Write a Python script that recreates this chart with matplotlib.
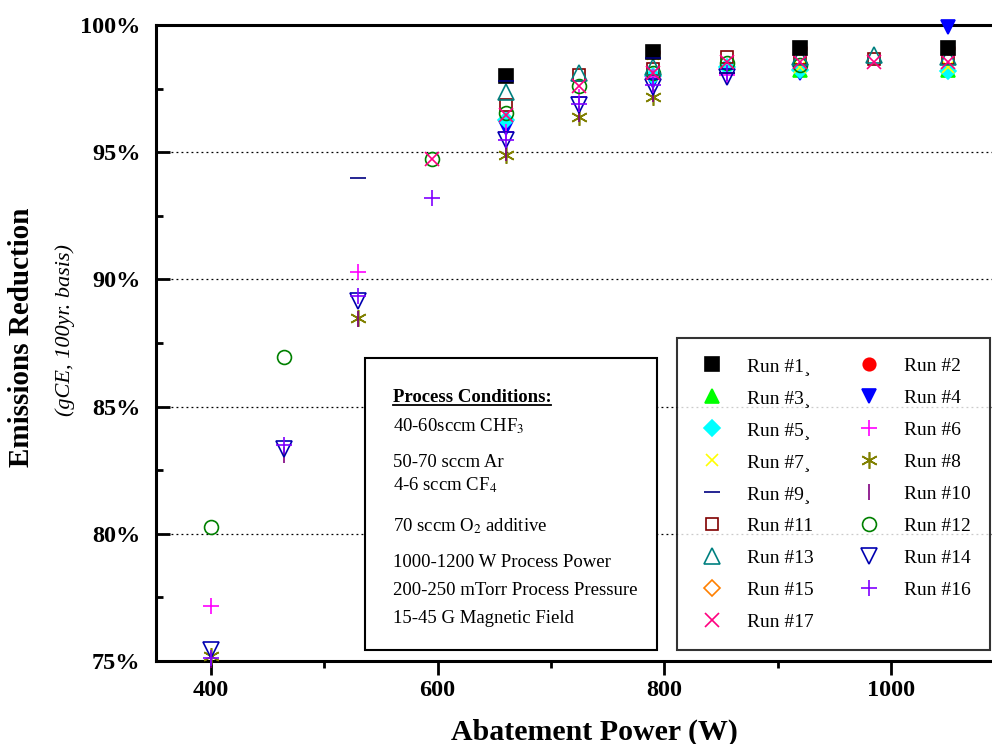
import numpy as np
import matplotlib
matplotlib.use('Agg')
import matplotlib.pyplot as plt
from matplotlib.ticker import MultipleLocator, FuncFormatter
from matplotlib.patches import Rectangle

nan = np.nan

# abatement power settings (W)
power = [400, 465, 530, 595, 660, 725, 790, 855, 920, 985, 1050]

# emissions reduction (%) per run, aligned with power
run_1 = [nan, nan, nan, nan, 98.0, nan, 98.95, nan, 99.08, nan, 99.08]
run_2 = [nan, nan, nan, nan, nan, nan, 98.95, nan, 99.08, nan, 99.08]
run_3 = [nan, nan, nan, nan, nan, nan, nan, nan, 98.25, nan, 98.25]
run_4 = [nan, nan, nan, nan, 95.95, nan, 97.78, nan, 98.1, nan, 99.93]
run_5 = [nan, nan, nan, nan, 96.25, nan, 98.0, 98.35, 98.23, nan, 98.2]
run_6 = [77.15, nan, 90.3, nan, 95.8, 97.15, 97.95, 98.05, nan, nan, nan]
run_7 = [nan, nan, nan, nan, nan, nan, 98.85, nan, 98.35, nan, 98.35]
run_8 = [75.2, nan, 88.5, nan, 94.9, 96.38, 97.15, nan, nan, nan, nan]
run_9 = [nan, nan, 94.0, nan, 97.8, nan, 98.7, 98.13, nan, nan, nan]
run_10 = [75.05, 83.1, 88.45, nan, 94.95, 96.5, 97.3, nan, nan, nan, nan]
run_11 = [nan, nan, nan, nan, 96.86, 98.04, 98.26, 98.76, 98.69, 98.65, 98.69]
run_12 = [80.27, 86.96, nan, 94.73, 96.56, 97.62, 98.1, 98.5, 98.43, nan, nan]
run_13 = [nan, nan, nan, nan, 97.38, 98.12, 98.36, nan, 98.76, 98.82, 98.76]
run_14 = [75.44, 83.32, 89.14, nan, 95.49, 96.86, 97.58, 97.97, nan, nan, nan]
run_15 = [nan] * 11
run_16 = [75.1, 83.48, 89.34, 93.21, 95.49, 96.9, 97.65, 98.1, nan, nan, nan]
run_17 = [nan, nan, nan, 94.73, 96.47, 97.6, 98.1, 98.55, 98.56, 98.56, 98.56]

runs = [run_1, run_2, run_3, run_4, run_5, run_6, run_7, run_8, run_9,
        run_10, run_11, run_12, run_13, run_14, run_15, run_16, run_17]
labels = ['Run #1\u00b8', 'Run #2', 'Run #3\u00b8', 'Run #4', 'Run #5\u00b8', 'Run #6',
          'Run #7\u00b8', 'Run #8', 'Run #9\u00b8', 'Run #10', 'Run #11', 'Run #12',
          'Run #13', 'Run #14', 'Run #15', 'Run #16', 'Run #17']

# marker, colour, filled, size, zorder (some runs sit under others)
styles = [
    ('s', '#000000', True, 10, 3.2),
    ('o', '#ff0000', True, 9, 3.0),
    ('^', '#00ff00', True, 10, 3.0),
    ('v', '#0000ff', True, 10, 3.0),
    ('D', '#00ffff', True, 8, 3.0),
    ('+', '#ff00ff', False, 11, 3.0),
    ('x', '#ffff00', False, 8, 3.0),
    ((6, 2, 0), '#808000', False, 12, 3.0),
    ('_', '#000080', False, 11, 3.3),
    ('|', '#800080', False, 11, 3.0),
    ('s', '#800000', False, 9, 3.0),
    ('o', '#008000', False, 10, 3.0),
    ('^', '#008080', False, 11, 3.0),
    ('v', '#0000b0', False, 11, 3.0),
    ('D', '#ff8000', False, 8, 3.0),
    ('+', '#8000ff', False, 11, 3.0),
    ('x', '#ff0080', False, 10, 3.0),
]

plt.rcParams['font.family'] = 'Liberation Serif'
plt.rcParams['mathtext.fontset'] = 'stix'

fig = plt.figure(figsize=(9.92, 7.44), dpi=100)
ax = fig.add_axes([0.157, 0.1116, 0.843, 0.8548])

handles = []
for vals, lab, (mk, col, filled, ms, z) in zip(runs, labels, styles):
    h, = ax.plot(power, vals, linestyle='none', marker=mk, markersize=ms,
                 markerfacecolor=col if filled else 'none',
                 markeredgecolor=col, markeredgewidth=1.2,
                 label=lab, clip_on=False, zorder=z)
    handles.append(h)

ax.set_xlim(351.5, 1089)
ax.set_ylim(75, 100)

for side in ['left', 'bottom', 'top']:
    ax.spines[side].set_linewidth(2.2)
ax.spines['right'].set_visible(False)

ax.xaxis.set_major_locator(MultipleLocator(200))
ax.xaxis.set_minor_locator(MultipleLocator(100))
ax.yaxis.set_major_locator(MultipleLocator(5))
ax.yaxis.set_minor_locator(MultipleLocator(2.5))
ax.yaxis.set_major_formatter(FuncFormatter(lambda v, p: f'{v:.0f}%'))

ax.tick_params(axis='x', which='major', direction='out', length=10, width=2,
               labelsize=17.5, pad=4)
ax.tick_params(axis='x', which='minor', direction='out', length=5, width=2)
ax.tick_params(axis='y', which='major', direction='in', length=10, width=2,
               labelsize=17.5, pad=11)
ax.tick_params(axis='y', which='minor', direction='in', length=5, width=2)
for t in ax.get_xticklabels() + ax.get_yticklabels():
    t.set_fontweight('bold')

ax.yaxis.grid(True, which='major', color='black', linestyle=(0, (1.5, 2.5)), linewidth=0.9)
ax.set_axisbelow(True)

fig.text(0.599, 0.016, 'Abatement Power (W)', fontsize=21.5, fontweight='bold',
         ha='center', va='center')
fig.text(0.022, 0.547, 'Emissions Reduction', rotation=90, fontsize=21,
         fontweight='bold', ha='center', va='center')
fig.text(0.066, 0.556, '(gCE, 100yr. basis)', rotation=90, fontsize=16,
         fontstyle='italic', ha='center', va='center')

# legend, filled row by row like the original
order = list(range(0, 17, 2)) + list(range(1, 17, 2))
leg = ax.legend([handles[i] for i in order], [labels[i] for i in order],
                ncol=2, loc='lower left', bbox_to_anchor=(0.623, 0.017, 0.375, 0.5),
                mode='expand', fontsize=14, frameon=True, fancybox=False,
                edgecolor='black', borderpad=1.0, labelspacing=0.74,
                handlelength=1.6, handletextpad=1.0, columnspacing=1.0,
                borderaxespad=0)
leg.get_frame().set_linewidth(1.5)
leg.set_zorder(5)

# process conditions box
box = Rectangle((0.25, 0.017), 0.349, 0.459, transform=ax.transAxes,
                facecolor='white', edgecolor='black', linewidth=1.5, zorder=4)
ax.add_patch(box)

tx = 0.2835
head = ax.text(tx, 0.4077, 'Process Conditions:', transform=ax.transAxes,
               fontsize=13.5, fontweight='bold', va='baseline', zorder=6)
lines = [
    ('40-60sccm CHF$_3$', 0.3606),
    ('50-70 sccm Ar', 0.3055),
    ('4-6 sccm CF$_4$', 0.2689),
    ('70 sccm O$_2$ additive', 0.2033),
    ('1000-1200 W Process Power', 0.1483),
    ('200-250 mTorr Process Pressure', 0.1038),
    ('15-45 G Magnetic Field', 0.0593),
]
for s, yy in lines:
    ax.text(tx, yy, s, transform=ax.transAxes, fontsize=13.5, va='baseline', zorder=6)

# underline the heading
fig.canvas.draw()
bb = head.get_window_extent().transformed(ax.transAxes.inverted())
ax.plot([bb.x0, bb.x1], [0.4077 - 0.006, 0.4077 - 0.006], color='black',
        linewidth=1.3, transform=ax.transAxes, zorder=6, clip_on=False)

fig.savefig('out.png', dpi=100)
